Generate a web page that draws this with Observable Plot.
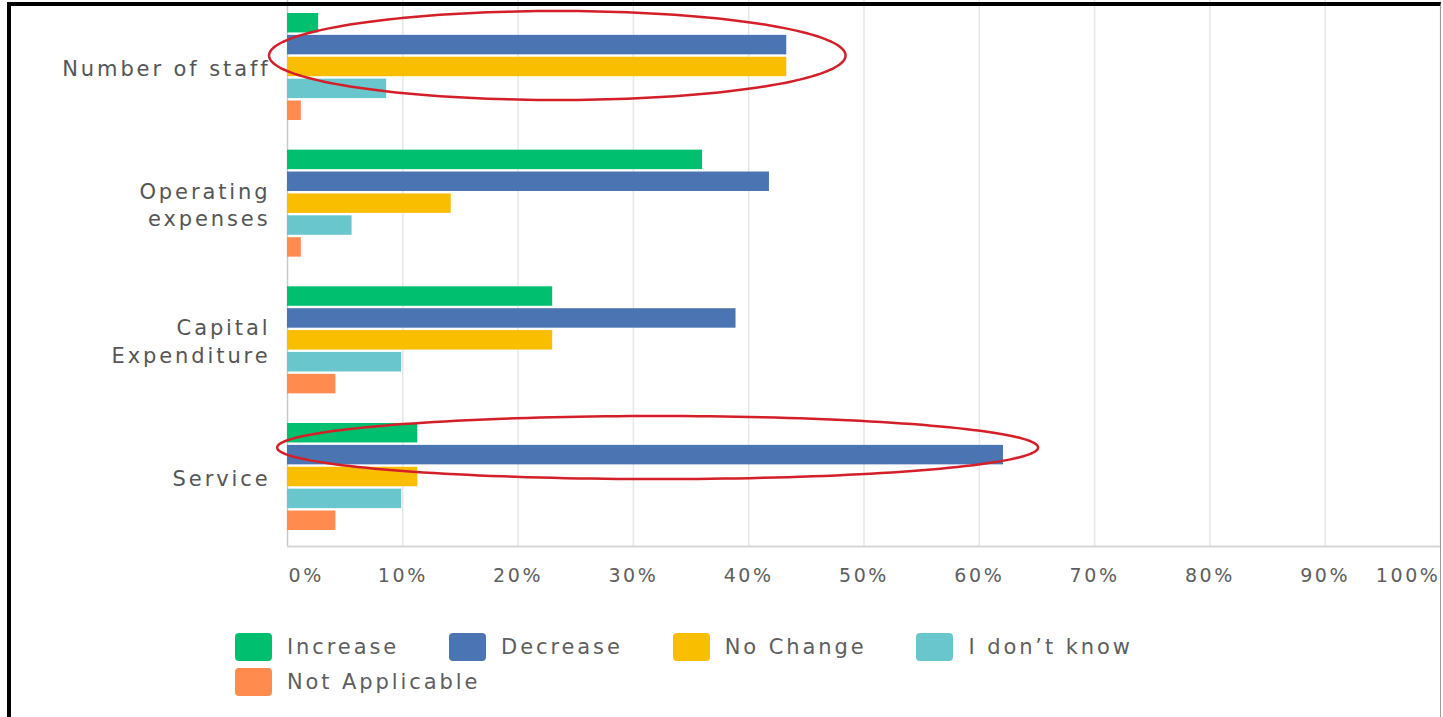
<!DOCTYPE html>
<html>
<head>
<meta charset="utf-8">
<script src="https://cdn.jsdelivr.net/npm/d3@7"></script>
<script src="https://cdn.jsdelivr.net/npm/@observablehq/plot@0.6"></script>
<style>
  html, body { margin: 0; padding: 0; background: #fff; }
  #wrap { position: relative; width: 1443px; height: 717px; overflow: hidden; font-family: "DejaVu Sans", sans-serif; }
  #frame { position: absolute; left: 7px; top: 2px; width: 1434px; height: 730px; border-left: 4px solid #000; border-top: 4px solid #000; border-right: 1px solid #9a9a9a; box-sizing: border-box; pointer-events: none; z-index: 10; }
  .layer { position: absolute; left: 0; top: 0; }
  .layer svg { background: transparent !important; overflow: visible; font-family: "DejaVu Sans", sans-serif; }
  .ticks text { letter-spacing: 2.6px; }
  .cats text { letter-spacing: 2.9px; }
  #legend { position: absolute; left: 235px; top: 633px; width: 1000px; display: flex; flex-wrap: wrap; row-gap: 7px; }
  .item { display: flex; align-items: center; margin-right: 50px; height: 28px; }
  .sw { width: 37px; height: 28px; border-radius: 4px; margin-right: 15px; }
  .lab { font-family: "DejaVu Sans", sans-serif; font-size: 21px; letter-spacing: 2.9px; color: #5e5e5e; }
</style>
</head>
<body>
<div id="wrap">
  <div id="bg" class="layer ticks"></div>
  <div id="bars" class="layer cats"></div>
  <div id="notes" class="layer"></div>
  <div id="legend"></div>
  <div id="frame"></div>
</div>
<script>
// ---- data ----
const categories = ["Number of staff", "Operating expenses", "Capital Expenditure", "Service"];
const categoryLabels = ["Number of staff", "Operating\nexpenses", "Capital\nExpenditure", "Service"];
const series = ["Increase", "Decrease", "No Change", "I don't know", "Not Applicable"];
const legendLabels = ["Increase", "Decrease", "No Change", "I don\u2019t know", "Not Applicable"];
const colors = ["#00bf6f", "#4a74b2", "#f9be00", "#69c6cc", "#ff8b4f"];
const increase      = [2.7, 36.0, 23.0, 11.3];
const decrease      = [43.3, 41.8, 38.9, 62.1];
const noChange      = [43.3, 14.2, 23.0, 11.3];
const dontKnow      = [8.6, 5.6, 9.9, 9.9];
const notApplicable = [1.2, 1.2, 4.2, 4.2];
const tickValues = [0, 10, 20, 30, 40, 50, 60, 70, 80, 90, 100];
const tickLabels = ["0%", "10%", "20%", "30%", "40%", "50%", "60%", "70%", "80%", "90%", "100%"];
// highlight ellipses (x in %, y in category-group units from top)
const highlights = [
  {id: "staff", cx: 23.4, cy: 0.403, rx: 25.0, ry: 0.326},
  {id: "service", cx: 32.1, cy: 3.275, rx: 33.0, ry: 0.231}
];

const valuesBySeries = [increase, decrease, noChange, dontKnow, notApplicable];
const rows = categories.flatMap((c, i) => series.map((s, j) => ({category: c, series: s, value: valuesBySeries[j][i], label: categoryLabels[i]})));
const ticks = tickValues.map((v, i) => ({v, label: tickLabels[i], i}));

const W = 1443, H = 600, ML = 287, MR = 3, MT = 0, MB = 54;

// ---- background: grid, axis lines, tick labels ----
const tickStyle = {fontSize: 19, fill: "#5e5e5e", frameAnchor: "bottom", dy: 35};
const bg = Plot.plot({
  width: W, height: H, marginLeft: ML, marginRight: MR, marginTop: MT, marginBottom: MB,
  x: {domain: [0, 100], axis: null},
  y: {domain: [0, 1], axis: null},
  marks: [
    Plot.ruleX(tickValues.slice(1), {stroke: "#e6e6e6", strokeWidth: 1.5}),
    Plot.ruleX([0], {stroke: "#c9c9c9", strokeWidth: 1.5}),
    Plot.ruleY([0], {stroke: "#d6d6d6", strokeWidth: 2}),
    Plot.text(ticks.filter(d => d.i === 0), {x: "v", text: "label", textAnchor: "start", dx: 1, ...tickStyle}),
    Plot.text(ticks.filter(d => d.i > 0 && d.i < ticks.length - 1), {x: "v", text: "label", textAnchor: "middle", ...tickStyle}),
    Plot.text(ticks.filter(d => d.i === ticks.length - 1), {x: "v", text: "label", textAnchor: "end", dx: 0, ...tickStyle})
  ]
});
document.getElementById("bg").appendChild(bg);

// ---- bars, faceted by category ----
const bars = Plot.plot({
  width: W, height: H, marginLeft: ML, marginRight: MR, marginTop: MT, marginBottom: MB,
  x: {domain: [0, 100], axis: null},
  y: {domain: series, axis: null, paddingInner: 0.11, paddingOuter: 0, round: false},
  fy: {domain: categories, axis: null, paddingInner: 0.217, paddingOuter: 0.106, align: 0.448, round: false},
  color: {domain: series, range: colors},
  facet: {data: rows, y: "category"},
  marks: [
    Plot.barX(rows, {x: "value", y: "series", fill: "series"}),
    Plot.text(rows, {filter: d => d.series === "No Change", x: 0, text: "label", textAnchor: "end", dx: -17,
      fontSize: 21, fill: "#555", lineHeight: 1.3})
  ]
});
document.getElementById("bars").appendChild(bars);

// ---- annotation ellipses ----
const ellipsePts = highlights.flatMap(h => d3.range(0, 361, 2).map(a => ({
  id: h.id,
  x: h.cx + h.rx * Math.cos(a * Math.PI / 180),
  y: h.cy + h.ry * Math.sin(a * Math.PI / 180)
})));
const notes = Plot.plot({
  width: W, height: H, marginLeft: ML, marginRight: MR, marginTop: MT, marginBottom: MB,
  x: {domain: [0, 100], axis: null},
  y: {domain: [0, categories.length], reverse: true, axis: null},
  marks: [
    Plot.line(ellipsePts, {x: "x", y: "y", z: "id", stroke: "#d41f28", strokeWidth: 2.5})
  ]
});
document.getElementById("notes").appendChild(notes);

// ---- legend ----
const legend = document.getElementById("legend");
series.forEach((s, i) => {
  const item = document.createElement("div");
  item.className = "item";
  const sw = document.createElement("div");
  sw.className = "sw";
  sw.style.background = colors[i];
  const lab = document.createElement("span");
  lab.className = "lab";
  lab.textContent = legendLabels[i];
  item.appendChild(sw); item.appendChild(lab);
  legend.appendChild(item);
});
</script>
</body>
</html>
